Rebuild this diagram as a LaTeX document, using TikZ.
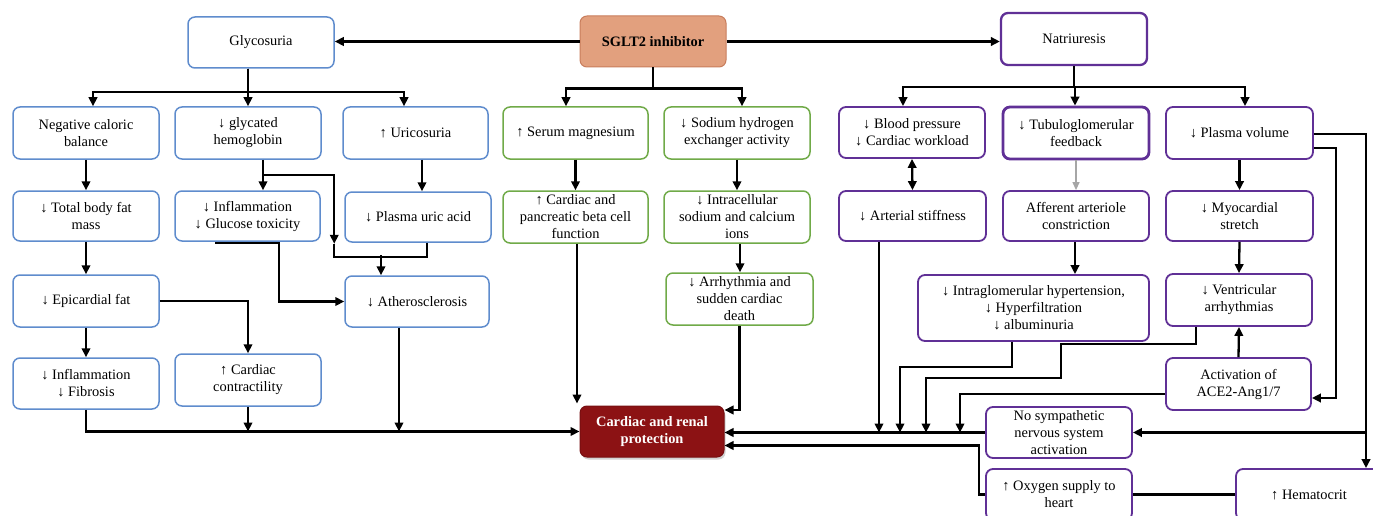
\documentclass[tikz,border=0pt]{standalone}
\usepackage{fontspec}
\setmainfont{Liberation Serif}
\usetikzlibrary{arrows.meta,calc,shadows}
\definecolor{cblue}{RGB}{95,140,205}
\definecolor{cgreen}{RGB}{112,170,72}
\definecolor{cpurple}{RGB}{96,48,150}
\definecolor{csglt}{RGB}{226,160,126}
\definecolor{csgltb}{RGB}{200,125,92}
\definecolor{cprot}{RGB}{140,18,20}
\tikzset{
 box/.style={rectangle, rounded corners=7pt, align=center, inner sep=0pt, font=\fontsize{14.4}{17}\selectfont, fill=white},
 bbox/.style={box, draw=cblue, line width=1.5pt},
 gbox/.style={box, draw=cgreen, line width=1.5pt},
 pbox/.style={box, draw=cpurple, line width=1.8pt},
 ln/.style={line width=2.3pt, black},
 arr/.style={ln, -{Triangle[length=9pt,width=8.5pt]}},
 arrboth/.style={ln, {Triangle[length=9pt,width=8.5pt]}-{Triangle[length=9pt,width=8.5pt]}},
}
\newcommand\mybox[6]{\node[#1, minimum width=#4pt, minimum height=#5pt] (#2) at (#3) {#6};}
\begin{document}
\begin{tikzpicture}[x=1pt,y=-1pt]
\useasboundingbox (0,0) rectangle (1373,516);
% ---------- nodes ----------
\mybox{bbox}{glyc}{261,42.5}{146}{51}{Glycosuria}
\node[box, draw=csgltb, fill=csglt, line width=1pt, minimum width=146pt, minimum height=51pt, font=\fontsize{14.4}{17}\selectfont\bfseries] (sglt) at (653,41.5) {SGLT2 inhibitor};
\mybox{pbox, line width=2.3pt}{natr}{1074,39}{146}{52}{Natriuresis}
\mybox{bbox}{negcal}{86,133}{146}{52}{Negative caloric\\balance}
\mybox{bbox}{glycated}{248,133}{146}{52}{↓ glycated\\hemoglobin}
\mybox{bbox}{uric}{415.5,133}{145}{52}{↑ Uricosuria}
\mybox{gbox}{serum}{575.5,133}{145}{52}{↑ Serum magnesium}
\mybox{gbox}{sodium}{737,133}{146}{52}{↓ Sodium hydrogen\\exchanger activity}
\mybox{pbox}{bp}{912,132.5}{146}{51}{↓ Blood pressure\\↓ Cardiac workload}
\mybox{pbox, line width=2.8pt}{tgf}{1076,133}{146}{52}{↓ Tubuloglomerular\\feedback}
\mybox{pbox}{pv}{1239.5,133}{147}{52}{↓ Plasma volume}
\mybox{bbox}{totalfat}{86,216}{146}{50}{↓ Total body fat\\mass}
\mybox{bbox}{inflgluc}{247.5,216}{145}{50}{↓ Inflammation\\↓ Glucose toxicity}
\mybox{bbox}{pua}{418,217}{146}{50}{↓ Plasma uric acid}
\mybox{gbox}{cardpanc}{575.5,217}{145}{52}{↑ Cardiac and\\pancreatic beta cell\\function}
\mybox{gbox}{intracell}{737,217}{146}{52}{↓ Intracellular\\sodium and calcium\\ions}
\mybox{pbox}{artstiff}{912.5,216}{147}{50}{↓ Arterial stiffness}
\mybox{pbox}{afferent}{1076,216}{146}{50}{Afferent arteriole\\constriction}
\mybox{pbox}{myocard}{1239.5,216}{147}{50}{↓ Myocardial\\stretch}
\mybox{bbox}{epicard}{86,301}{146}{52}{↓ Epicardial fat}
\mybox{bbox}{athero}{417,301.5}{144}{51}{↓ Atherosclerosis}
\mybox{gbox}{arrhyth}{739.5,299}{147}{52}{↓ Arrhythmia and\\sudden cardiac\\death}
\mybox{pbox}{intraglom}{1033.5,308}{231}{66}{↓ Intraglomerular hypertension,\\↓ Hyperfiltration\\↓ albuminuria}
\mybox{pbox}{ventric}{1239,300}{146}{52}{↓ Ventricular\\arrhythmias}
\mybox{bbox}{inflfib}{86,383.5}{146}{51}{↓ Inflammation\\↓ Fibrosis}
\mybox{bbox}{cardcontr}{248,380}{146}{52}{↑ Cardiac\\contractility}
\node[box, draw=cprot!85!black, fill=cprot, text=white, line width=1pt, minimum width=144pt, minimum height=51pt, font=\fontsize{14.4}{17}\selectfont\bfseries, drop shadow={opacity=0.35, shadow xshift=1.5pt, shadow yshift=-2.5pt}] (protect) at (652,431.5) {Cardiac and renal\\protection};
\mybox{pbox}{activation}{1238.5,384}{145}{52}{Activation of\\ACE2-Ang1/7}
\mybox{pbox}{nosymp}{1059,432.5}{146}{51}{No sympathetic\\nervous system\\activation}
\mybox{pbox}{oxygen}{1059,494.5}{146}{51}{↑ Oxygen supply to\\heart}
\mybox{pbox}{hemat}{1309,494.5}{146}{51}{↑ Hematocrit}
% ---------- helper coordinates ----------
\coordinate (x900) at (900,0);
\coordinate (x926) at (926,0);
\coordinate (x960) at (960,0);
\coordinate (hx) at ($(hemat.north)+(57,0)$);
% ---------- top connectors ----------
\draw[arr] (sglt.west) -- (sglt.west -| glyc.east);
\draw[arr] (sglt.east) -- (sglt.east -| natr.west);
\draw[arr] ($(glyc.south)+(-13,0)$) -- ++(0,23) -| ($(negcal.north)+(7,0)$);
\draw[arr] ($(glyc.south)+(-13,0)$) -- ++(0,23) -- ($(glycated.north)$);
\draw[arr] ($(glyc.south)+(-13,0)$) -- ++(0,23) -| ($(uric.north)+(-11.5,0)$);
\draw[arr] (sglt.south) -- ++(0,21) -| ($(serum.north)+(-9.5,0)$);
\draw[arr] (sglt.south) -- ++(0,21) -| ($(sodium.north)+(5,0)$);
\draw[arr] (natr.south) -- ++(0,21) -| ($(bp.north)+(-9,0)$);
\draw[arr] (natr.south) -- ++(0,21) -| ($(tgf.north)+(-1,0)$);
\draw[arr] (natr.south) -- ++(0,21) -| ($(pv.north)+(5.5,0)$);
% ---------- glycosuria branch ----------
\draw[arr] (negcal.south) -- (totalfat.north);
\draw[arr] ($(glycated.south)+(15,0)$) -- ($(inflgluc.north)+(15.5,0)$);
\draw[arr] ($(glycated.south)+(15,15)$) -| ($(pua.south west)+(-10,1)$);
\draw[ln] ($(pua.south)+(9,0)$) -- ++(0,14) -| ($(pua.south west)+(-10,1)$);
\draw[arr] ($(athero.north)+(-36,-20)$) -- ($(athero.north)+(-36,0)$);
\draw[arr] ($(inflgluc.south)+(-32.5,1)$) -- ($(inflgluc.south)+(31.5,1)$) |- (athero.west);
\draw[arr] ($(uric.south)+(6.5,0)$) -- ($(pua.north)+(4,0)$);
\draw[arr] (totalfat.south) -- (epicard.north);
\draw[arr] (epicard.south) -- (inflfib.north);
\draw[arr] (epicard.east) -| (cardcontr.north);
\draw[arr] (inflfib.south) |- (protect.west);
\draw[arr] (cardcontr.south) -- (cardcontr.south |- protect.west);
\coordinate (a1) at ($(athero.south)+(-18,0)$);
\draw[arr] (a1) -- (a1 |- protect.west);
% ---------- middle branch ----------
\draw[arr] (serum.south) -- (cardpanc.north);
\draw[arr] (sodium.south) -- (intracell.north);
\coordinate (i1) at ($(intracell.south)+(3,0)$);
\draw[arr] (i1) -- (i1 |- arrhyth.north);
\coordinate (c1) at ($(cardpanc.south)+(1.5,0)$);
\draw[arr] (c1) -- ($(c1 |- protect.north)+(0,-2)$);
\draw[arr] (arrhyth.south) |- ($(protect.east)+(0,-21.5)$);
% ---------- natriuresis branch ----------
\draw[arrboth] (bp.south) -- (artstiff.north);
\draw[line width=1.2pt, gray!70, -{Triangle[length=8pt,width=7pt]}] (tgf.south) -- (afferent.north);
\coordinate (f1) at ($(afferent.south)+(-1,0)$);
\draw[arr] (f1) -- (f1 |- intraglom.north);
\draw[arr] (pv.south) -- (myocard.north);
\draw[arr] (myocard.south) -- (ventric.north);
\draw[arr] (activation.north) -- (ventric.south);
\coordinate (s1) at ($(artstiff.south)+(-33.5,0)$);
\draw[arr] (s1) -- (s1 |- nosymp.west);
\draw[arr] (nosymp.west) -- (nosymp.west -| protect.east);
\draw[arr] ($(intraglom.south)+(-21.5,0)$) -- ++(0,25) -| (x900 |- nosymp.west);
\draw[arr] ($(ventric.south)+(-43,0)$) -- ++(0,17) -| (1061,378) -| (x926 |- nosymp.west);
\draw[arr] ($(activation.west)+(0,10)$) -| (x960 |- nosymp.west);
\draw[arr] ($(pv.east)+(0,15)$) -| ($(activation.east)+(24,14)$) -- ($(activation.east)+(0,14)$);
\draw[arr] ($(pv.east)+(0,1)$) -| (hx);
\draw[arr] (hx |- nosymp.east) -- (nosymp.east);
\draw[ln] (hemat.west) -- (oxygen.east);
\draw[arr] (oxygen.west) -- ++(-6,0) |- ($(protect.east)+(0,14)$);
\end{tikzpicture}
\end{document}
